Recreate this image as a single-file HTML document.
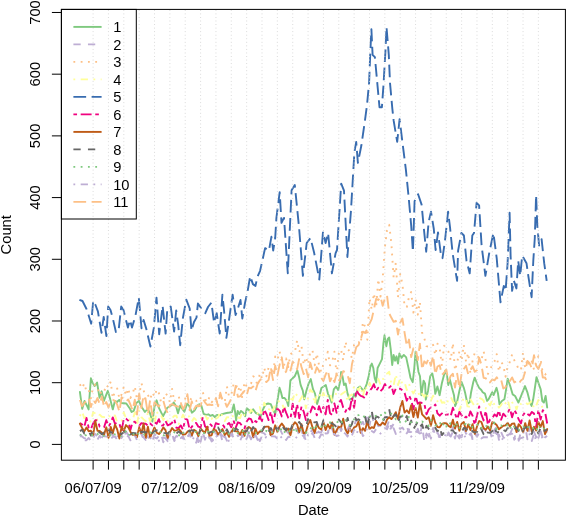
<!DOCTYPE html><html><head><meta charset="utf-8"><style>html,body{margin:0;padding:0;background:#fff;}svg{display:block;will-change:transform;}text{font-family:"Liberation Sans",sans-serif;fill:#000;}</style></head><body>
<svg width="567" height="516" viewBox="0 0 567 516">
<rect width="567" height="516" fill="#fff"/>
<polyline points="79.9,391.9 82.2,408.9 84.5,400.9 86.7,405.2 88.6,409.4 90.9,378.3 92.8,383.3 94.7,386.0 97.1,382.6 99.5,397.7 101.6,391.3 103.9,400.9 105.9,395.6 107.8,390.8 110.1,398.8 112.8,409.4 114.9,400.9 117.0,402.0 119.2,399.9 121.3,403.0 126.3,403.5 130.0,408.8 131.6,412.0 133.7,410.9 136.4,402.9 139.1,400.8 140.7,405.6 144.9,412.0 147.6,408.8 149.9,413.0 152.4,421.6 154.5,406.7 156.6,400.3 158.8,407.7 163.0,416.2 165.2,412.0 167.3,407.7 172.0,405.0 173.7,402.6 176.0,406.0 178.0,413.3 180.1,405.8 182.0,408.5 184.4,411.7 187.1,403.7 189.2,405.8 191.9,412.7 194.5,410.6 197.2,405.8 199.3,404.2 201.4,405.8 203.6,413.8 206.2,414.9 208.4,414.3 210.5,415.9 212.6,414.9 214.8,417.0 216.9,414.9 220.0,415.4 222.1,414.1 226.5,413.0 229.7,412.5 231.9,412.0 233.8,404.5 235.1,412.0 236.1,420.5 237.7,410.9 239.3,414.1 240.9,410.9 243.0,412.5 245.2,416.2 246.8,408.3 248.9,409.9 251.0,413.0 253.2,409.3 255.8,413.0 258.5,414.1 260.6,416.8 262.8,409.9 265.4,404.5 268.0,403.5 270.8,404.1 273.0,409.6 275.2,414.0 277.4,400.9 279.5,387.8 281.0,392.2 282.4,398.0 284.6,398.0 286.8,400.9 288.3,406.0 290.4,380.5 292.6,378.3 294.8,376.2 297.3,370.3 299.2,377.6 300.6,384.9 302.8,390.7 304.2,399.4 306.4,390.7 308.6,383.6 310.8,379.1 313.0,389.2 315.0,393.6 317.1,404.0 319.3,396.7 321.4,388.0 323.6,386.5 325.8,385.0 328.0,393.8 329.4,396.7 331.6,402.5 333.8,389.4 336.0,386.5 338.2,390.1 340.3,380.7 341.1,372.0 342.5,376.3 344.0,385.0 345.7,383.6 347.6,393.8 349.8,399.6 352.7,398.1 354.2,393.8 355.6,396.7 357.8,388.0 360.0,386.5 363.8,391.2 366.7,384.0 368.9,375.2 370.4,366.5 371.8,363.6 373.3,368.0 374.7,378.1 376.2,382.5 377.6,368.0 379.8,363.6 382.0,359.2 383.4,343.3 384.5,335.3 386.3,346.2 387.8,338.9 389.2,337.4 390.7,349.1 392.2,365.0 393.6,354.9 395.1,360.7 396.5,356.3 398.0,363.6 399.4,353.4 401.6,357.8 403.8,354.9 406.2,357.4 408.4,367.6 410.5,377.8 412.7,382.2 414.2,369.1 415.6,351.6 417.1,361.8 418.5,372.0 420.0,376.3 421.4,395.2 423.6,380.7 425.1,383.6 425.8,399.6 428.0,390.9 430.2,376.3 432.3,373.4 433.8,380.7 435.3,393.8 437.4,386.5 439.6,395.2 441.8,383.6 444.0,374.9 445.4,370.5 446.9,374.9 448.3,385.0 449.8,379.2 452.0,388.0 454.0,395.2 455.1,406.0 457.3,400.9 459.4,390.7 461.6,382.0 463.8,387.8 465.3,393.6 467.4,403.8 469.6,402.3 471.1,392.2 473.3,382.0 474.7,377.6 476.9,383.4 479.1,387.8 481.3,390.0 482.7,392.2 484.9,393.6 487.1,400.9 488.5,399.4 490.0,396.5 492.2,392.2 493.6,395.1 496.5,387.8 498.0,393.6 499.5,404.3 501.9,401.0 504.4,399.3 506.1,389.4 507.7,378.7 510.2,386.1 512.7,394.4 515.1,396.0 518.4,402.6 521.7,394.4 525.0,386.1 527.5,392.7 530.0,402.6 531.6,405.9 533.2,399.3 536.5,377.1 539.0,384.5 540.7,389.4 542.3,401.0 543.9,402.6 545.6,396.0 547.2,407.5" fill="none" stroke="#7FC97F" stroke-width="1.90" stroke-linejoin="round" stroke-linecap="round"/>
<polyline points="79.9,434.7 82.1,436.4 84.3,438.2 86.5,438.8 88.7,436.1 90.9,436.9 93.1,435.5 95.3,433.9 97.5,437.0 99.7,439.7 101.9,437.6 104.1,434.3 106.3,439.6 108.5,435.4 110.7,434.1 112.8,434.7 115.0,440.1 117.2,436.4 119.4,436.2 121.6,435.5 123.8,439.4 126.0,431.6 128.2,434.9 130.4,437.9 132.6,436.9 134.8,434.7 137.0,440.2 139.2,437.8 141.4,432.6 143.6,440.3 145.7,434.1 147.9,437.3 150.1,439.1 152.3,434.9 154.5,437.3 156.7,438.5 158.9,436.0 161.1,433.6 163.3,442.3 165.5,434.3 167.7,439.3 169.9,434.8 172.1,433.7 174.3,441.1 176.5,436.5 178.7,437.8 180.8,438.1 183.0,436.3 185.2,441.3 187.4,436.8 189.6,433.9 191.8,436.0 194.0,435.8 196.2,442.7 198.4,435.2 200.6,441.8 202.8,432.1 205.0,439.7 207.2,433.2 209.4,438.2 211.6,438.5 213.7,441.0 215.9,432.1 218.1,437.4 220.3,432.1 222.5,442.0 224.7,435.9 226.9,440.7 229.1,438.0 231.3,431.0 233.5,437.5 235.7,438.4 237.9,435.3 240.1,434.2 242.3,435.5 244.5,435.4 246.7,439.5 248.8,432.0 251.0,435.3 253.2,435.6 255.4,434.6 257.6,439.9 259.8,431.7 262.0,432.7 264.2,433.4 266.4,436.0 268.6,438.2 270.8,432.4 273.0,431.2 275.2,433.5 277.4,432.1 279.6,428.8 281.8,432.9 283.9,436.5 286.1,430.8 288.3,433.1 290.5,434.5 292.7,430.1 294.9,428.7 297.1,429.1 299.3,435.7 301.5,428.6 303.7,439.8 305.9,430.0 308.1,431.0 310.3,432.4 312.5,429.6 314.7,433.3 316.8,428.8 319.0,432.6 321.2,432.3 323.4,427.6 325.6,433.5 327.8,433.3 330.0,424.1 332.2,429.3 334.4,435.6 336.6,433.8 338.8,422.5 341.0,431.0 343.2,426.0 345.4,429.3 347.6,429.9 349.8,424.2 351.9,425.0 354.1,426.2 356.3,419.6 358.5,425.9 360.7,425.5 362.9,421.7 365.1,428.0 367.3,416.5 369.5,425.6 371.7,413.7 373.9,423.5 376.1,420.9 378.3,426.2 380.5,425.6 382.7,424.9 384.9,423.2 387.0,427.0 389.2,419.8 391.4,427.8 393.6,423.8 395.8,425.1 398.0,425.6 400.2,429.0 402.4,427.5 404.6,431.0 406.8,426.9 409.0,432.1 411.2,432.0 413.4,434.6 415.6,434.6 417.8,428.8 419.9,435.3 422.1,424.9 424.3,441.7 426.5,433.5 428.7,436.5 430.9,435.2 433.1,427.9 435.3,435.9 437.5,438.0 439.7,436.1 441.9,433.5 444.1,437.8 446.3,438.0 448.5,432.4 450.7,436.5 452.9,427.0 455.0,438.5 457.2,429.9 459.4,435.1 461.6,437.3 463.8,427.5 466.0,433.8 468.2,432.2 470.4,430.1 472.6,440.0 474.8,433.3 477.0,436.7 479.2,432.5 481.4,433.1 483.6,427.5 485.8,431.4 487.9,435.7 490.1,431.8 492.3,439.0 494.5,429.6 496.7,426.9 498.9,439.9 501.1,432.1 503.3,437.1 505.5,439.3 507.7,436.3 509.9,434.6 512.1,429.0 514.3,439.7 516.5,426.8 518.7,440.7 520.9,431.6 523.0,434.3 525.2,425.7 527.4,439.3 529.6,427.1 531.8,433.6 534.0,431.8 536.2,437.1 538.4,436.8 540.6,430.8 542.8,438.2 545.0,436.7 547.2,429.8" fill="none" stroke="#BEAED4" stroke-width="1.90" stroke-linejoin="round" stroke-linecap="butt" stroke-dasharray="7.28 7.28"/>
<polyline points="79.9,384.3 82.1,388.5 84.3,383.4 86.5,391.6 88.7,390.0 90.9,398.4 93.1,386.6 95.3,384.5 97.5,387.8 99.7,395.0 101.9,390.4 104.1,391.7 106.3,384.7 108.5,387.7 110.7,381.5 112.8,398.3 115.0,390.8 117.2,388.5 119.4,398.7 121.6,394.4 123.8,386.8 126.0,395.8 128.2,388.2 130.4,398.0 132.6,393.8 134.8,386.3 137.0,399.6 139.2,394.6 141.4,383.2 143.6,390.1 145.7,399.6 147.9,394.9 150.1,399.6 152.3,392.3 154.5,396.7 156.7,389.3 158.9,393.2 161.1,402.4 163.3,399.9 165.5,392.9 167.7,396.1 169.9,402.2 172.1,388.9 174.3,401.9 176.5,398.1 178.7,396.4 180.8,404.0 183.0,398.6 185.2,398.6 187.4,400.6 189.6,400.8 191.8,397.8 194.0,399.8 196.2,400.6 198.4,406.5 200.6,397.9 202.8,392.3 205.0,398.8 207.2,402.4 209.4,397.3 211.6,402.3 213.7,399.9 215.9,402.6 218.1,400.2 220.3,393.3 222.5,399.7 224.7,402.4 226.9,386.5 229.1,396.7 231.3,394.6 233.5,384.5 235.7,383.0 237.9,391.2 240.1,385.9 242.3,398.3 244.5,381.9 246.7,386.5 248.8,385.5 251.0,383.7 253.2,376.3 255.4,377.6 257.6,386.4 259.8,373.1 262.0,378.5 264.2,367.6 266.4,376.3 268.6,367.6 270.8,367.1 273.0,374.6 275.2,356.5 277.4,360.0 279.6,351.5 281.8,361.7 283.9,365.5 286.1,358.5 288.3,367.0 290.5,354.3 292.7,352.3 294.9,352.1 297.1,340.3 299.3,352.1 301.5,346.0 303.7,365.0 305.9,356.8 308.1,364.4 310.3,351.5 312.5,350.2 314.7,365.4 316.8,353.4 319.0,365.1 321.2,371.8 323.4,364.3 325.6,361.2 327.8,351.8 330.0,365.4 332.2,361.8 334.4,351.7 336.6,374.5 338.8,353.4 341.0,349.5 343.2,360.1 345.4,341.6 347.6,348.9 349.8,351.5 351.9,358.4 354.1,344.7 356.3,341.9 358.5,342.0 360.7,344.2 362.9,321.8 365.1,326.8 367.3,339.7 369.5,298.3 371.7,309.7 373.9,293.1 376.1,307.4 378.3,278.9 380.5,296.6 382.7,278.5 384.9,247.0 387.0,230.3 389.2,224.8 391.4,243.8 393.6,277.3 395.8,262.9 398.0,297.2 400.2,274.0 402.4,284.1 404.6,306.7 406.8,307.0 409.0,297.1 411.2,292.0 413.4,312.6 415.6,299.1 417.8,314.7 419.9,301.9 422.1,332.6 424.3,338.4 426.5,346.2 428.7,346.8 430.9,346.9 433.1,344.8 435.3,355.1 437.5,343.7 439.7,348.2 441.9,365.9 444.1,345.6 446.3,348.4 448.5,351.8 450.7,360.4 452.9,342.9 455.0,370.6 457.2,362.5 459.4,351.1 461.6,361.0 463.8,344.8 466.0,361.6 468.2,352.9 470.4,373.8 472.6,360.8 474.8,352.7 477.0,355.1 479.2,358.6 481.4,359.9 483.6,351.4 485.8,360.8 487.9,373.9 490.1,370.3 492.3,364.3 494.5,361.6 496.7,354.1 498.9,371.7 501.1,362.0 503.3,364.8 505.5,376.7 507.7,366.3 509.9,361.9 512.1,354.4 514.3,360.2 516.5,364.2 518.7,369.6 520.9,370.3 523.0,352.8 525.2,367.8 527.4,359.5 529.6,365.6 531.8,361.4 534.0,369.7 536.2,361.5 538.4,356.2 540.6,359.0 542.8,373.4 545.0,373.7 547.2,377.0" fill="none" stroke="#FDC086" stroke-width="1.90" stroke-linejoin="round" stroke-linecap="butt" stroke-dasharray="1.82 5.46"/>
<polyline points="79.9,416.0 82.1,411.5 84.3,418.2 86.5,416.6 88.7,418.9 90.9,422.1 93.1,412.2 95.3,413.5 97.5,420.7 99.7,414.7 101.9,416.8 104.1,417.1 106.3,417.2 108.5,414.8 110.7,418.2 112.8,416.0 115.0,415.4 117.2,422.5 119.4,421.4 121.6,420.6 123.8,412.2 126.0,418.7 128.2,417.8 130.4,420.4 132.6,420.2 134.8,412.5 137.0,425.6 139.2,410.5 141.4,417.2 143.6,419.4 145.7,421.2 147.9,412.7 150.1,421.3 152.3,414.8 154.5,423.2 156.7,411.1 158.9,416.6 161.1,415.6 163.3,419.9 165.5,416.6 167.7,421.1 169.9,419.4 172.1,418.3 174.3,415.8 176.5,415.7 178.7,424.0 180.8,420.1 183.0,414.7 185.2,418.9 187.4,416.0 189.6,416.7 191.8,421.8 194.0,418.1 196.2,419.9 198.4,417.8 200.6,418.8 202.8,415.2 205.0,414.4 207.2,419.6 209.4,415.8 211.6,419.0 213.7,415.4 215.9,418.7 218.1,417.4 220.3,411.5 222.5,416.5 224.7,421.2 226.9,417.1 229.1,417.4 231.3,419.3 233.5,414.9 235.7,417.3 237.9,417.5 240.1,418.1 242.3,411.6 244.5,415.3 246.7,415.7 248.8,414.4 251.0,409.6 253.2,412.6 255.4,414.9 257.6,413.6 259.8,407.1 262.0,416.3 264.2,402.6 266.4,407.3 268.6,410.3 270.8,406.3 273.0,410.7 275.2,404.0 277.4,403.1 279.6,400.6 281.8,402.3 283.9,408.9 286.1,406.5 288.3,397.1 290.5,398.6 292.7,400.0 294.9,392.3 297.1,395.7 299.3,401.3 301.5,397.5 303.7,393.9 305.9,408.3 308.1,397.6 310.3,389.5 312.5,392.2 314.7,404.3 316.8,395.1 319.0,392.9 321.2,398.6 323.4,392.7 325.6,398.8 327.8,395.1 330.0,392.8 332.2,400.7 334.4,397.3 336.6,392.4 338.8,392.3 341.0,394.6 343.2,393.0 345.4,391.4 347.6,401.9 349.8,395.3 351.9,395.0 354.1,386.2 356.3,385.7 358.5,390.7 360.7,385.6 362.9,396.7 365.1,385.6 367.3,389.9 369.5,382.7 371.7,388.0 373.9,383.4 376.1,383.4 378.3,378.8 380.5,384.5 382.7,380.0 384.9,374.3 387.0,373.6 389.2,371.7 391.4,384.4 393.6,385.7 395.8,374.2 398.0,385.1 400.2,378.2 402.4,384.1 404.6,382.5 406.8,390.1 409.0,384.0 411.2,389.7 413.4,393.4 415.6,389.3 417.8,390.6 419.9,397.0 422.1,393.9 424.3,396.9 426.5,392.1 428.7,400.2 430.9,400.7 433.1,395.7 435.3,400.9 437.5,401.2 439.7,397.5 441.9,402.7 444.1,402.3 446.3,405.3 448.5,398.8 450.7,396.8 452.9,401.3 455.0,403.8 457.2,400.3 459.4,410.6 461.6,403.5 463.8,397.4 466.0,398.8 468.2,410.0 470.4,399.5 472.6,403.0 474.8,406.5 477.0,405.9 479.2,397.8 481.4,398.8 483.6,400.6 485.8,408.5 487.9,402.8 490.1,405.4 492.3,399.6 494.5,405.1 496.7,403.9 498.9,407.6 501.1,405.2 503.3,400.5 505.5,403.3 507.7,399.6 509.9,408.6 512.1,402.9 514.3,402.0 516.5,409.4 518.7,402.2 520.9,404.1 523.0,403.6 525.2,402.0 527.4,404.2 529.6,403.1 531.8,400.5 534.0,408.6 536.2,405.8 538.4,399.9 540.6,403.9 542.8,408.0 545.0,407.2 547.2,406.3" fill="none" stroke="#FFFF99" stroke-width="1.90" stroke-linejoin="round" stroke-linecap="butt" stroke-dasharray="1.82 5.46 7.28 5.46"/>
<polyline points="79.4,299.8 82.5,301.0 86.5,309.0 88.5,315.0 91.2,323.7 93.2,300.8 95.5,305.0 97.9,311.4 101.5,332.9 103.7,317.0 106.4,336.1 108.2,306.5 110.5,310.0 112.9,318.8 115.9,332.0 118.5,331.5 121.2,306.5 123.5,310.0 127.9,327.6 130.0,320.0 132.0,327.5 135.4,316.0 138.8,297.6 141.5,328.2 143.6,320.0 146.3,328.9 150.4,346.5 153.8,328.2 156.5,297.6 159.2,334.3 162.6,305.8 165.6,333.6 167.3,309.2 170.7,306.5 174.1,331.6 176.2,310.5 178.2,324.8 180.2,345.2 182.9,318.0 186.3,299.7 189.7,308.5 191.5,330.8 194.0,322.0 196.5,317.6 197.9,303.5 201.0,308.0 205.3,313.2 208.0,307.0 211.4,302.6 214.1,322.9 216.7,313.2 219.7,333.5 222.4,294.7 224.0,310.0 226.4,337.9 229.0,320.0 232.6,294.7 235.6,315.0 238.0,308.0 240.5,300.0 242.3,318.5 245.0,303.0 247.6,291.2 250.2,276.2 252.9,284.1 255.5,285.9 257.3,277.1 260.1,270.8 265.1,248.1 268.9,250.6 271.4,236.8 273.2,250.6 275.2,238.0 276.4,217.9 279.7,192.2 281.5,222.9 284.0,217.9 287.8,273.3 291.6,190.2 294.8,185.1 299.1,227.9 302.9,275.8 306.7,243.0 310.5,238.0 314.2,253.1 319.3,279.6 323.0,231.7 325.6,243.0 328.1,233.0 331.9,273.3 335.6,253.1 337.0,250.0 341.2,183.7 344.0,190.7 347.4,257.0 350.9,211.6 354.4,152.3 356.2,141.9 357.9,162.8 361.4,145.3 364.9,120.9 367.0,105.0 369.1,82.8 370.2,54.9 371.4,29.3 372.6,54.9 374.9,57.2 377.0,80.0 379.5,107.2 381.9,107.2 383.5,85.0 385.5,50.0 386.5,27.0 388.8,54.9 390.0,82.8 392.3,108.4 393.7,120.9 397.2,141.9 399.6,119.2 402.4,141.9 405.9,169.8 408.7,197.7 411.2,225.6 412.9,251.7 414.6,201.2 418.1,194.2 421.6,204.6 424.0,230.0 426.2,251.7 428.6,222.1 431.0,211.6 433.8,229.0 435.6,250.0 438.0,232.5 440.8,253.5 442.5,258.2 445.0,240.6 448.1,211.6 450.1,228.0 452.6,253.2 457.1,280.9 458.1,250.7 461.4,233.0 463.9,235.5 466.5,260.7 469.7,273.4 472.3,235.5 474.0,233.0 476.6,202.8 479.1,205.3 481.6,245.6 485.4,275.9 489.2,253.2 493.4,233.0 496.7,258.2 500.5,302.3 503.8,285.9 505.6,290.9 507.6,263.2 509.6,212.8 510.6,255.6 512.1,290.9 513.9,280.8 516.4,288.4 518.2,260.7 520.2,275.8 522.2,255.6 526.5,263.2 528.3,275.8 531.6,297.2 533.3,260.7 534.8,238.0 536.1,195.1 537.3,225.4 539.1,245.5 541.6,239.2 544.2,263.2 546.7,280.8" fill="none" stroke="#386CB0" stroke-width="1.90" stroke-linejoin="round" stroke-linecap="butt" stroke-dasharray="12.74 5.46"/>
<polyline points="79.9,422.9 82.1,424.5 84.3,426.9 86.5,418.0 88.7,427.9 90.9,429.3 93.1,423.5 95.3,420.2 97.5,420.4 99.7,426.6 101.9,426.9 104.1,427.2 106.3,420.2 108.5,426.5 110.7,423.1 112.8,417.4 115.0,423.7 117.2,423.0 119.4,423.7 121.6,431.1 123.8,418.7 126.0,418.6 128.2,420.6 130.4,430.0 132.6,421.9 134.8,421.7 137.0,424.8 139.2,425.9 141.4,423.1 143.6,423.7 145.7,423.6 147.9,425.9 150.1,423.5 152.3,425.4 154.5,422.3 156.7,423.7 158.9,419.2 161.1,425.9 163.3,425.2 165.5,420.8 167.7,425.3 169.9,424.5 172.1,422.7 174.3,419.2 176.5,427.9 178.7,427.9 180.8,425.4 183.0,429.7 185.2,418.9 187.4,419.6 189.6,429.5 191.8,426.9 194.0,423.4 196.2,422.9 198.4,426.7 200.6,427.4 202.8,417.1 205.0,426.2 207.2,428.2 209.4,423.5 211.6,425.5 213.7,429.8 215.9,423.0 218.1,424.1 220.3,424.0 222.5,424.3 224.7,427.6 226.9,424.7 229.1,423.0 231.3,427.2 233.5,420.3 235.7,427.6 237.9,422.3 240.1,423.2 242.3,426.2 244.5,428.4 246.7,421.6 248.8,418.4 251.0,419.1 253.2,424.1 255.4,421.0 257.6,422.6 259.8,416.5 262.0,421.1 264.2,409.4 266.4,413.8 268.6,420.1 270.8,411.5 273.0,422.8 275.2,413.3 277.4,408.6 279.6,410.6 281.8,416.4 283.9,406.8 286.1,412.7 288.3,418.0 290.5,418.6 292.7,403.6 294.9,418.2 297.1,404.0 299.3,418.3 301.5,406.6 303.7,411.6 305.9,420.0 308.1,411.3 310.3,412.3 312.5,406.4 314.7,408.3 316.8,415.3 319.0,406.1 321.2,412.3 323.4,407.1 325.6,414.4 327.8,400.0 330.0,413.2 332.2,414.9 334.4,403.4 336.6,412.8 338.8,402.8 341.0,399.9 343.2,407.6 345.4,411.8 347.6,407.0 349.8,409.5 351.9,397.6 354.1,407.8 356.3,390.1 358.5,393.8 360.7,395.9 362.9,396.7 365.1,398.3 367.3,391.8 369.5,390.8 371.7,388.4 373.9,384.2 376.1,390.9 378.3,387.7 380.5,391.2 382.7,388.8 384.9,383.9 387.0,387.9 389.2,387.6 391.4,385.5 393.6,394.0 395.8,388.5 398.0,388.7 400.2,388.8 402.4,390.1 404.6,393.0 406.8,400.7 409.0,395.5 411.2,400.1 413.4,409.4 415.6,396.2 417.8,403.7 419.9,402.4 422.1,403.0 424.3,403.5 426.5,414.3 428.7,409.4 430.9,407.4 433.1,407.5 435.3,404.5 437.5,413.4 439.7,415.7 441.9,413.4 444.1,415.9 446.3,414.6 448.5,414.5 450.7,416.2 452.9,407.7 455.0,413.8 457.2,419.1 459.4,411.9 461.6,415.2 463.8,418.5 466.0,416.6 468.2,418.6 470.4,411.4 472.6,415.8 474.8,425.0 477.0,415.6 479.2,406.4 481.4,414.5 483.6,420.4 485.8,410.7 487.9,424.9 490.1,419.3 492.3,418.3 494.5,414.4 496.7,416.4 498.9,410.4 501.1,419.7 503.3,413.7 505.5,416.2 507.7,412.6 509.9,408.6 512.1,417.3 514.3,409.9 516.5,413.8 518.7,419.4 520.9,423.4 523.0,415.3 525.2,412.2 527.4,413.9 529.6,415.5 531.8,411.9 534.0,413.6 536.2,427.1 538.4,409.8 540.6,419.6 542.8,410.2 545.0,411.7 547.2,423.5" fill="none" stroke="#F0027F" stroke-width="1.90" stroke-linejoin="round" stroke-linecap="butt" stroke-dasharray="3.64 3.64 10.92 3.64"/>
<polyline points="79.9,423.7 82.1,427.9 84.3,431.4 86.5,427.5 88.7,431.2 90.9,430.7 93.1,435.1 95.3,421.1 97.5,430.8 99.7,431.0 101.9,432.8 104.1,434.4 106.3,427.3 108.5,437.7 110.7,426.9 112.8,433.2 115.0,424.6 117.2,429.5 119.4,438.5 121.6,426.6 123.8,430.9 126.0,425.1 128.2,427.2 130.4,431.7 132.6,434.9 134.8,434.1 137.0,437.0 139.2,427.4 141.4,433.6 143.6,423.4 145.7,438.2 147.9,426.6 150.1,437.6 152.3,432.6 154.5,427.5 156.7,432.7 158.9,434.0 161.1,431.5 163.3,427.4 165.5,430.2 167.7,437.9 169.9,432.2 172.1,428.0 174.3,430.7 176.5,430.4 178.7,428.8 180.8,431.3 183.0,434.6 185.2,434.3 187.4,431.9 189.6,430.4 191.8,435.3 194.0,429.8 196.2,431.2 198.4,436.1 200.6,428.6 202.8,431.0 205.0,432.7 207.2,426.7 209.4,435.7 211.6,435.2 213.7,429.1 215.9,430.1 218.1,434.5 220.3,431.7 222.5,429.0 224.7,434.9 226.9,432.5 229.1,436.8 231.3,432.5 233.5,428.2 235.7,431.3 237.9,431.4 240.1,434.7 242.3,429.9 244.5,435.8 246.7,428.6 248.8,426.9 251.0,428.5 253.2,437.3 255.4,428.6 257.6,434.0 259.8,431.4 262.0,431.2 264.2,427.2 266.4,426.6 268.6,426.6 270.8,435.2 273.0,433.5 275.2,425.3 277.4,432.0 279.6,426.5 281.8,423.5 283.9,426.4 286.1,430.6 288.3,428.6 290.5,435.1 292.7,425.6 294.9,422.3 297.1,424.4 299.3,432.1 301.5,424.1 303.7,433.5 305.9,432.2 308.1,424.3 310.3,420.1 312.5,427.4 314.7,432.9 316.8,424.2 319.0,428.0 321.2,429.6 323.4,422.1 325.6,430.1 327.8,424.5 330.0,428.5 332.2,422.5 334.4,434.7 336.6,430.3 338.8,426.8 341.0,427.7 343.2,418.7 345.4,429.3 347.6,433.5 349.8,428.5 351.9,432.0 354.1,427.3 356.3,426.4 358.5,421.6 360.7,432.8 362.9,428.2 365.1,430.8 367.3,421.4 369.5,429.1 371.7,427.2 373.9,428.0 376.1,420.9 378.3,424.6 380.5,425.2 382.7,422.4 384.9,424.8 387.0,419.6 389.2,417.2 391.4,419.1 393.6,416.2 395.8,412.2 398.0,419.0 400.2,407.5 402.4,401.0 404.6,412.6 406.8,410.3 409.0,413.3 411.2,405.3 413.4,417.0 415.6,407.9 417.8,417.6 419.9,403.5 422.1,414.3 424.3,416.7 426.5,419.0 428.7,417.3 430.9,425.7 433.1,415.2 435.3,422.9 437.5,427.1 439.7,427.3 441.9,424.0 444.1,423.1 446.3,423.2 448.5,425.9 450.7,427.2 452.9,419.7 455.0,428.6 457.2,421.9 459.4,430.7 461.6,423.5 463.8,422.1 466.0,431.0 468.2,424.5 470.4,430.0 472.6,424.2 474.8,433.9 477.0,426.4 479.2,421.0 481.4,422.0 483.6,428.2 485.8,429.8 487.9,426.6 490.1,430.6 492.3,422.1 494.5,423.3 496.7,425.1 498.9,429.3 501.1,427.5 503.3,425.7 505.5,425.4 507.7,423.0 509.9,426.4 512.1,423.6 514.3,423.5 516.5,432.0 518.7,424.1 520.9,427.0 523.0,431.9 525.2,423.1 527.4,430.8 529.6,420.4 531.8,431.6 534.0,426.8 536.2,430.4 538.4,422.1 540.6,427.0 542.8,421.1 545.0,434.2 547.2,429.1" fill="none" stroke="#BF5B17" stroke-width="1.90" stroke-linejoin="round" stroke-linecap="round"/>
<polyline points="79.9,431.1 82.1,429.8 84.3,433.6 86.5,431.2 88.7,431.0 90.9,435.6 93.1,430.2 95.3,430.0 97.5,430.7 99.7,432.4 101.9,434.2 104.1,432.4 106.3,434.7 108.5,429.5 110.7,432.5 112.8,432.5 115.0,433.1 117.2,433.7 119.4,433.2 121.6,434.0 123.8,432.2 126.0,431.2 128.2,429.6 130.4,434.5 132.6,432.9 134.8,433.1 137.0,433.7 139.2,429.6 141.4,432.0 143.6,431.7 145.7,432.7 147.9,430.1 150.1,433.7 152.3,433.0 154.5,431.3 156.7,430.3 158.9,431.2 161.1,430.4 163.3,432.9 165.5,433.1 167.7,433.5 169.9,431.2 172.1,432.4 174.3,432.8 176.5,433.5 178.7,431.4 180.8,433.5 183.0,431.2 185.2,432.4 187.4,431.1 189.6,431.3 191.8,430.0 194.0,431.4 196.2,432.3 198.4,435.7 200.6,429.3 202.8,432.7 205.0,433.0 207.2,433.2 209.4,432.9 211.6,431.7 213.7,431.7 215.9,432.8 218.1,427.4 220.3,431.7 222.5,430.3 224.7,433.9 226.9,429.3 229.1,433.8 231.3,430.6 233.5,432.2 235.7,428.3 237.9,429.9 240.1,431.3 242.3,433.4 244.5,431.3 246.7,431.4 248.8,426.2 251.0,431.6 253.2,427.0 255.4,430.3 257.6,429.8 259.8,431.2 262.0,431.1 264.2,426.6 266.4,426.7 268.6,432.0 270.8,428.0 273.0,432.0 275.2,427.1 277.4,430.3 279.6,424.2 281.8,425.3 283.9,428.6 286.1,430.1 288.3,424.5 290.5,429.8 292.7,424.3 294.9,425.4 297.1,424.8 299.3,421.9 301.5,425.4 303.7,427.2 305.9,427.7 308.1,418.8 310.3,423.7 312.5,421.9 314.7,422.4 316.8,422.0 319.0,429.2 321.2,427.5 323.4,420.3 325.6,420.7 327.8,420.9 330.0,423.1 332.2,423.4 334.4,425.0 336.6,427.2 338.8,419.5 341.0,422.1 343.2,425.2 345.4,425.6 347.6,417.9 349.8,427.7 351.9,424.3 354.1,415.5 356.3,420.0 358.5,419.3 360.7,421.1 362.9,421.9 365.1,416.8 367.3,426.5 369.5,416.7 371.7,410.7 373.9,423.0 376.1,416.5 378.3,417.1 380.5,419.7 382.7,422.5 384.9,417.2 387.0,417.3 389.2,409.2 391.4,420.2 393.6,416.0 395.8,414.3 398.0,422.6 400.2,416.4 402.4,416.6 404.6,420.7 406.8,416.0 409.0,426.6 411.2,420.6 413.4,429.2 415.6,425.5 417.8,421.6 419.9,427.0 422.1,424.3 424.3,432.0 426.5,425.8 428.7,428.9 430.9,430.1 433.1,426.7 435.3,427.7 437.5,431.6 439.7,427.2 441.9,435.1 444.1,432.3 446.3,431.0 448.5,430.0 450.7,430.3 452.9,430.5 455.0,433.3 457.2,432.7 459.4,432.7 461.6,432.2 463.8,428.0 466.0,428.7 468.2,431.4 470.4,428.4 472.6,431.6 474.8,432.4 477.0,432.2 479.2,426.2 481.4,429.3 483.6,434.2 485.8,429.8 487.9,432.6 490.1,432.9 492.3,431.1 494.5,426.4 496.7,433.6 498.9,431.0 501.1,432.9 503.3,429.9 505.5,431.3 507.7,428.1 509.9,428.7 512.1,430.9 514.3,429.1 516.5,427.6 518.7,430.8 520.9,434.9 523.0,429.6 525.2,427.8 527.4,426.8 529.6,430.3 531.8,433.9 534.0,427.0 536.2,428.5 538.4,433.6 540.6,427.7 542.8,432.2 545.0,430.4 547.2,429.6" fill="none" stroke="#666666" stroke-width="1.90" stroke-linejoin="round" stroke-linecap="butt" stroke-dasharray="7.28 7.28"/>
<polyline points="79.9,435.6 82.1,434.2 84.3,436.8 86.5,434.4 88.7,433.6 90.9,434.9 93.1,435.3 95.3,432.6 97.5,433.7 99.7,436.6 101.9,436.2 104.1,435.6 106.3,434.5 108.5,433.7 110.7,435.4 112.8,432.4 115.0,434.6 117.2,435.0 119.4,434.7 121.6,436.8 123.8,432.8 126.0,431.4 128.2,436.3 130.4,432.6 132.6,435.0 134.8,433.2 137.0,435.7 139.2,432.2 141.4,433.8 143.6,434.3 145.7,434.5 147.9,434.0 150.1,432.2 152.3,436.1 154.5,433.3 156.7,433.6 158.9,434.1 161.1,431.3 163.3,436.2 165.5,432.9 167.7,433.5 169.9,434.3 172.1,430.7 174.3,432.3 176.5,432.9 178.7,436.2 180.8,431.4 183.0,433.0 185.2,431.6 187.4,433.2 189.6,433.3 191.8,434.0 194.0,431.5 196.2,432.1 198.4,436.4 200.6,431.5 202.8,432.4 205.0,433.7 207.2,429.9 209.4,433.6 211.6,433.5 213.7,431.7 215.9,431.1 218.1,430.9 220.3,430.6 222.5,434.9 224.7,430.8 226.9,433.7 229.1,433.8 231.3,430.9 233.5,429.1 235.7,434.0 237.9,432.8 240.1,432.6 242.3,429.8 244.5,436.0 246.7,430.4 248.8,433.0 251.0,432.5 253.2,433.0 255.4,433.2 257.6,431.4 259.8,432.3 262.0,429.0 264.2,431.8 266.4,430.9 268.6,432.4 270.8,433.7 273.0,431.7 275.2,430.9 277.4,429.5 279.6,433.3 281.8,427.5 283.9,431.3 286.1,433.3 288.3,430.1 290.5,432.3 292.7,433.0 294.9,427.0 297.1,432.1 299.3,428.5 301.5,430.0 303.7,431.5 305.9,433.1 308.1,429.0 310.3,429.5 312.5,424.7 314.7,430.6 316.8,424.8 319.0,425.3 321.2,426.1 323.4,429.3 325.6,424.5 327.8,425.2 330.0,422.3 332.2,428.3 334.4,425.6 336.6,423.9 338.8,419.2 341.0,420.6 343.2,424.0 345.4,420.1 347.6,420.5 349.8,425.2 351.9,420.6 354.1,419.4 356.3,414.9 358.5,415.1 360.7,422.5 362.9,418.3 365.1,414.9 367.3,415.7 369.5,416.5 371.7,415.4 373.9,417.6 376.1,415.6 378.3,415.4 380.5,413.6 382.7,420.7 384.9,412.7 387.0,414.7 389.2,415.3 391.4,413.6 393.6,414.8 395.8,419.3 398.0,418.1 400.2,422.3 402.4,415.4 404.6,420.1 406.8,422.5 409.0,416.2 411.2,423.3 413.4,423.3 415.6,423.8 417.8,421.3 419.9,422.6 422.1,421.4 424.3,423.4 426.5,423.4 428.7,426.1 430.9,420.2 433.1,421.2 435.3,425.1 437.5,425.4 439.7,421.8 441.9,427.1 444.1,422.5 446.3,426.6 448.5,421.6 450.7,424.0 452.9,422.5 455.0,428.7 457.2,422.9 459.4,427.9 461.6,425.4 463.8,424.0 466.0,424.2 468.2,427.2 470.4,422.5 472.6,427.5 474.8,428.0 477.0,425.1 479.2,423.1 481.4,428.3 483.6,426.0 485.8,427.0 487.9,423.5 490.1,428.2 492.3,426.4 494.5,422.6 496.7,429.3 498.9,426.4 501.1,425.3 503.3,427.8 505.5,426.8 507.7,424.7 509.9,429.1 512.1,424.1 514.3,427.0 516.5,427.8 518.7,430.7 520.9,426.0 523.0,426.4 525.2,428.4 527.4,425.7 529.6,429.0 531.8,426.7 534.0,429.2 536.2,431.7 538.4,424.9 540.6,429.0 542.8,426.8 545.0,429.9 547.2,427.6" fill="none" stroke="#7FC97F" stroke-width="1.90" stroke-linejoin="round" stroke-linecap="butt" stroke-dasharray="1.82 5.46"/>
<polyline points="79.9,436.2 82.1,436.3 84.3,440.4 86.5,440.2 88.7,438.0 90.9,440.8 93.1,437.3 95.3,435.7 97.5,439.7 99.7,435.7 101.9,439.2 104.1,438.6 106.3,436.5 108.5,438.5 110.7,439.0 112.8,436.8 115.0,436.6 117.2,439.7 119.4,440.4 121.6,437.8 123.8,437.4 126.0,438.1 128.2,435.9 130.4,440.3 132.6,437.4 134.8,436.3 137.0,437.2 139.2,437.2 141.4,434.8 143.6,437.3 145.7,440.0 147.9,437.8 150.1,437.1 152.3,441.8 154.5,434.4 156.7,435.3 158.9,440.8 161.1,436.4 163.3,437.7 165.5,438.1 167.7,441.2 169.9,434.4 172.1,438.9 174.3,438.9 176.5,435.7 178.7,438.1 180.8,439.7 183.0,437.9 185.2,438.9 187.4,437.7 189.6,433.9 191.8,440.8 194.0,437.1 196.2,435.6 198.4,442.1 200.6,437.8 202.8,435.0 205.0,436.1 207.2,436.2 209.4,436.7 211.6,441.4 213.7,439.7 215.9,435.4 218.1,438.7 220.3,434.1 222.5,435.8 224.7,437.2 226.9,436.6 229.1,441.7 231.3,433.6 233.5,437.4 235.7,437.1 237.9,435.1 240.1,441.1 242.3,435.5 244.5,440.9 246.7,438.6 248.8,434.1 251.0,439.3 253.2,433.9 255.4,438.5 257.6,437.1 259.8,441.1 262.0,436.0 264.2,438.5 266.4,436.9 268.6,438.1 270.8,436.2 273.0,436.4 275.2,436.5 277.4,438.7 279.6,435.4 281.8,437.9 283.9,436.6 286.1,440.0 288.3,436.7 290.5,437.2 292.7,436.3 294.9,436.6 297.1,438.1 299.3,437.6 301.5,436.7 303.7,435.0 305.9,440.5 308.1,434.4 310.3,436.6 312.5,432.9 314.7,438.1 316.8,432.5 319.0,438.6 321.2,434.3 323.4,434.9 325.6,434.0 327.8,431.3 330.0,434.9 332.2,434.5 334.4,433.8 336.6,436.1 338.8,435.1 341.0,428.2 343.2,432.2 345.4,433.7 347.6,436.6 349.8,429.2 351.9,435.6 354.1,429.7 356.3,434.3 358.5,429.3 360.7,429.3 362.9,436.0 365.1,434.0 367.3,427.9 369.5,429.4 371.7,430.9 373.9,432.5 376.1,429.0 378.3,431.2 380.5,433.5 382.7,431.3 384.9,428.0 387.0,429.3 389.2,424.1 391.4,431.5 393.6,428.2 395.8,433.9 398.0,430.4 400.2,431.9 402.4,431.7 404.6,431.2 406.8,433.4 409.0,429.3 411.2,436.7 413.4,433.0 415.6,431.6 417.8,432.1 419.9,433.5 422.1,432.5 424.3,434.6 426.5,437.7 428.7,432.8 430.9,438.5 433.1,431.1 435.3,435.1 437.5,432.7 439.7,437.0 441.9,437.1 444.1,437.9 446.3,432.4 448.5,434.6 450.7,436.6 452.9,431.7 455.0,438.6 457.2,434.9 459.4,438.4 461.6,433.5 463.8,434.8 466.0,438.2 468.2,436.1 470.4,433.6 472.6,437.8 474.8,438.0 477.0,434.8 479.2,433.7 481.4,438.4 483.6,437.1 485.8,437.2 487.9,437.3 490.1,438.1 492.3,437.2 494.5,431.1 496.7,433.8 498.9,434.6 501.1,441.1 503.3,437.8 505.5,434.5 507.7,435.3 509.9,433.9 512.1,433.7 514.3,439.6 516.5,435.7 518.7,439.5 520.9,438.1 523.0,437.5 525.2,436.0 527.4,434.5 529.6,434.3 531.8,441.0 534.0,433.4 536.2,441.2 538.4,437.9 540.6,431.4 542.8,440.5 545.0,437.4 547.2,436.0" fill="none" stroke="#BEAED4" stroke-width="1.90" stroke-linejoin="round" stroke-linecap="butt" stroke-dasharray="1.82 5.46 7.28 5.46"/>
<polyline points="79.9,400.0 82.1,406.2 84.3,403.0 86.5,400.9 88.7,397.8 90.9,407.1 93.1,399.6 95.3,403.0 97.5,398.0 99.7,404.2 101.9,396.4 104.1,407.0 106.3,402.0 108.5,407.7 110.7,400.5 112.8,399.8 115.0,400.9 117.2,404.6 119.4,411.7 121.6,397.2 123.8,399.3 126.0,401.8 128.2,399.4 130.4,404.5 132.6,410.3 134.8,399.6 137.0,414.6 139.2,393.5 141.4,408.0 143.6,395.4 145.7,399.8 147.9,414.2 150.1,400.2 152.3,414.9 154.5,402.2 156.7,404.7 158.9,406.5 161.1,402.6 163.3,400.7 165.5,408.6 167.7,413.0 169.9,405.2 172.1,404.2 174.3,405.3 176.5,406.3 178.7,406.6 180.8,402.7 183.0,409.2 185.2,405.2 187.4,394.1 189.6,410.2 191.8,401.3 194.0,409.3 196.2,405.7 198.4,406.2 200.6,405.7 202.8,398.4 205.0,402.4 207.2,405.0 209.4,404.5 211.6,405.1 213.7,404.7 215.9,398.0 218.1,406.3 220.3,392.8 222.5,400.7 224.7,401.3 226.9,406.8 229.1,403.0 231.3,398.6 233.5,398.2 235.7,385.9 237.9,396.8 240.1,396.4 242.3,393.4 244.5,391.0 246.7,395.2 248.8,387.7 251.0,388.3 253.2,386.5 255.4,391.3 257.6,383.9 259.8,380.2 262.0,378.7 264.2,378.9 266.4,382.1 268.6,379.8 270.8,367.4 273.0,380.1 275.2,365.6 277.4,375.6 279.6,364.7 281.8,357.3 283.9,373.1 286.1,371.7 288.3,362.4 290.5,370.6 292.7,361.5 294.9,364.3 297.1,369.4 299.3,358.1 301.5,367.0 303.7,374.1 305.9,368.2 308.1,377.3 310.3,362.7 312.5,370.7 314.7,374.0 316.8,367.3 319.0,370.8 321.2,377.8 323.4,380.9 325.6,374.6 327.8,370.1 330.0,381.4 332.2,376.2 334.4,382.0 336.6,374.0 338.8,381.3 341.0,377.1 343.2,371.2 345.4,372.2 347.6,375.3 349.8,383.2 351.9,364.5 354.1,355.3 356.3,347.1 358.5,345.1 360.7,339.4 362.9,331.6 365.1,332.9 367.3,329.0 369.5,323.6 371.7,319.1 373.9,309.5 376.1,298.9 378.3,300.0 380.5,296.7 382.7,305.8 384.9,298.5 387.0,295.4 389.2,313.3 391.4,317.8 393.6,321.8 395.8,320.8 398.0,334.5 400.2,322.9 402.4,318.5 404.6,332.8 406.8,346.1 409.0,339.6 411.2,357.1 413.4,348.2 415.6,348.0 417.8,360.1 419.9,343.6 422.1,369.7 424.3,361.3 426.5,363.5 428.7,358.3 430.9,365.9 433.1,355.6 435.3,374.6 437.5,366.5 439.7,365.4 441.9,374.8 444.1,372.7 446.3,369.5 448.5,381.4 450.7,375.9 452.9,373.8 455.0,387.6 457.2,373.6 459.4,388.6 461.6,373.6 463.8,369.0 466.0,365.8 468.2,374.2 470.4,370.8 472.6,366.2 474.8,371.8 477.0,370.1 479.2,357.8 481.4,364.6 483.6,377.9 485.8,378.2 487.9,383.1 490.1,382.3 492.3,379.4 494.5,380.4 496.7,377.3 498.9,380.7 501.1,379.7 503.3,388.5 505.5,387.2 507.7,381.4 509.9,381.1 512.1,377.4 514.3,382.4 516.5,381.3 518.7,383.8 520.9,380.5 523.0,379.0 525.2,371.5 527.4,360.9 529.6,363.1 531.8,368.3 534.0,355.1 536.2,365.8 538.4,368.9 540.6,363.4 542.8,377.6 545.0,377.5 547.2,381.8" fill="none" stroke="#FDC086" stroke-width="1.90" stroke-linejoin="round" stroke-linecap="butt" stroke-dasharray="12.74 5.46"/>
<path d="M93.10 9.9V459.7M108.45 9.9V459.7M123.81 9.9V459.7M139.16 9.9V459.7M154.52 9.9V459.7M169.88 9.9V459.7M185.23 9.9V459.7M200.58 9.9V459.7M215.94 9.9V459.7M231.29 9.9V459.7M246.65 9.9V459.7M262.00 9.9V459.7M277.36 9.9V459.7M292.72 9.9V459.7M308.07 9.9V459.7M323.43 9.9V459.7M338.78 9.9V459.7M354.13 9.9V459.7M369.49 9.9V459.7M384.85 9.9V459.7M400.20 9.9V459.7M415.55 9.9V459.7M430.91 9.9V459.7M446.26 9.9V459.7M461.62 9.9V459.7M476.98 9.9V459.7M492.33 9.9V459.7M507.69 9.9V459.7M523.04 9.9V459.7M538.39 9.9V459.7" stroke="#d3d3d3" stroke-width="0.9" stroke-dasharray="0.9 2.65" fill="none"/>
<rect x="61.4" y="9.4" width="504.0" height="450.8" fill="none" stroke="#000" stroke-width="1"/>
<path d="M93.10 460.2V469.6M108.45 460.2V469.6M123.81 460.2V469.6M139.16 460.2V469.6M154.52 460.2V469.6M169.88 460.2V469.6M185.23 460.2V469.6M200.58 460.2V469.6M215.94 460.2V469.6M231.29 460.2V469.6M246.65 460.2V469.6M262.00 460.2V469.6M277.36 460.2V469.6M292.72 460.2V469.6M308.07 460.2V469.6M323.43 460.2V469.6M338.78 460.2V469.6M354.13 460.2V469.6M369.49 460.2V469.6M384.85 460.2V469.6M400.20 460.2V469.6M415.55 460.2V469.6M430.91 460.2V469.6M446.26 460.2V469.6M461.62 460.2V469.6M476.98 460.2V469.6M492.33 460.2V469.6M507.69 460.2V469.6M523.04 460.2V469.6M538.39 460.2V469.6M51.9 444.40H61.4M51.9 382.70H61.4M51.9 320.99H61.4M51.9 259.29H61.4M51.9 197.58H61.4M51.9 135.88H61.4M51.9 74.18H61.4M51.9 12.47H61.4" stroke="#000" stroke-width="1" fill="none"/>
<text x="93.10" y="492.6" font-size="14.7" text-anchor="middle">06/07/09</text>
<text x="169.88" y="492.6" font-size="14.7" text-anchor="middle">07/12/09</text>
<text x="246.65" y="492.6" font-size="14.7" text-anchor="middle">08/16/09</text>
<text x="323.43" y="492.6" font-size="14.7" text-anchor="middle">09/20/09</text>
<text x="400.20" y="492.6" font-size="14.7" text-anchor="middle">10/25/09</text>
<text x="476.98" y="492.6" font-size="14.7" text-anchor="middle">11/29/09</text>
<text transform="translate(40.3 444.40) rotate(-90)" font-size="14.7" text-anchor="middle">0</text>
<text transform="translate(40.3 382.70) rotate(-90)" font-size="14.7" text-anchor="middle">100</text>
<text transform="translate(40.3 320.99) rotate(-90)" font-size="14.7" text-anchor="middle">200</text>
<text transform="translate(40.3 259.29) rotate(-90)" font-size="14.7" text-anchor="middle">300</text>
<text transform="translate(40.3 197.58) rotate(-90)" font-size="14.7" text-anchor="middle">400</text>
<text transform="translate(40.3 135.88) rotate(-90)" font-size="14.7" text-anchor="middle">500</text>
<text transform="translate(40.3 74.18) rotate(-90)" font-size="14.7" text-anchor="middle">600</text>
<text transform="translate(40.3 12.47) rotate(-90)" font-size="14.7" text-anchor="middle">700</text>
<text x="313.4" y="514.7" font-size="14.7" text-anchor="middle">Date</text>
<text transform="translate(10.8 234.8) rotate(-90)" font-size="14.7" text-anchor="middle">Count</text>
<rect x="61.4" y="9.4" width="74.9" height="209.6" fill="none" stroke="#000" stroke-width="1"/>
<path d="M73.4 26.9H101.6" stroke="#7FC97F" stroke-width="1.90" stroke-linecap="butt" fill="none"/>
<text x="113.2" y="32.0" font-size="14.7">1</text>
<path d="M73.4 44.4H101.6" stroke="#BEAED4" stroke-width="1.90" stroke-linecap="butt" fill="none" stroke-dasharray="7.28 7.28"/>
<text x="113.2" y="49.5" font-size="14.7">2</text>
<path d="M73.4 61.9H101.6" stroke="#FDC086" stroke-width="1.90" stroke-linecap="butt" fill="none" stroke-dasharray="1.82 5.46"/>
<text x="113.2" y="67.0" font-size="14.7">3</text>
<path d="M73.4 79.4H101.6" stroke="#FFFF99" stroke-width="1.90" stroke-linecap="butt" fill="none" stroke-dasharray="1.82 5.46 7.28 5.46"/>
<text x="113.2" y="84.5" font-size="14.7">4</text>
<path d="M73.4 96.9H101.6" stroke="#386CB0" stroke-width="1.90" stroke-linecap="butt" fill="none" stroke-dasharray="12.74 5.46"/>
<text x="113.2" y="102.0" font-size="14.7">5</text>
<path d="M73.4 114.4H101.6" stroke="#F0027F" stroke-width="1.90" stroke-linecap="butt" fill="none" stroke-dasharray="3.64 3.64 10.92 3.64"/>
<text x="113.2" y="119.5" font-size="14.7">6</text>
<path d="M73.4 131.9H101.6" stroke="#BF5B17" stroke-width="1.90" stroke-linecap="butt" fill="none"/>
<text x="113.2" y="137.0" font-size="14.7">7</text>
<path d="M73.4 149.4H101.6" stroke="#666666" stroke-width="1.90" stroke-linecap="butt" fill="none" stroke-dasharray="7.28 7.28"/>
<text x="113.2" y="154.5" font-size="14.7">8</text>
<path d="M73.4 166.9H101.6" stroke="#7FC97F" stroke-width="1.90" stroke-linecap="butt" fill="none" stroke-dasharray="1.82 5.46"/>
<text x="113.2" y="172.0" font-size="14.7">9</text>
<path d="M73.4 184.4H101.6" stroke="#BEAED4" stroke-width="1.90" stroke-linecap="butt" fill="none" stroke-dasharray="1.82 5.46 7.28 5.46"/>
<text x="113.2" y="189.5" font-size="14.7">10</text>
<path d="M73.4 201.9H101.6" stroke="#FDC086" stroke-width="1.90" stroke-linecap="butt" fill="none" stroke-dasharray="12.74 5.46"/>
<text x="113.2" y="207.0" font-size="14.7">11</text>
</svg></body></html>
